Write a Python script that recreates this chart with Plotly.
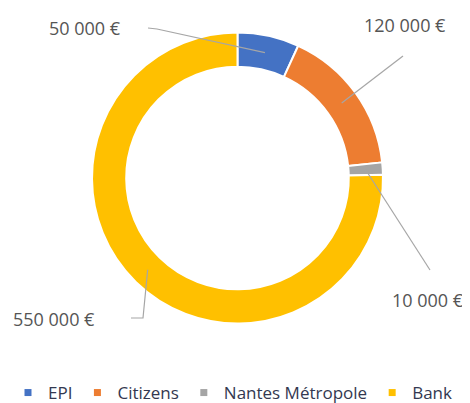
import math
import plotly.graph_objects as go

# ---- data ----
categories = ["EPI", "Citizens", "Nantes Métropole", "Bank"]
values = [50000, 120000, 10000, 550000]
value_labels = ["50 000 €", "120 000 €", "10 000 €", "550 000 €"]
colors = ["#4472C4", "#ED7D31", "#A5A5A5", "#FFC000"]

OFF = 8  # page body margin
W, H = 470 - OFF, 403 - OFF
CX, CY, R = 237.5 - OFF, 178 - OFF, 145.5
RDOM = R * 1.0  # pie fills its domain when margins do not auto-expand
HOLE = 0.765

def px(x, y):
    return x / W, 1 - y / H

fig = go.Figure()
fig.add_trace(go.Pie(
    labels=categories, values=values, hole=HOLE, sort=False,
    direction="clockwise", rotation=0,
    marker=dict(colors=colors, line=dict(color="white", width=2)),
    textinfo="none", hoverinfo="label+value", showlegend=False,
    domain=dict(x=[(CX - RDOM) / W, (CX + RDOM) / W], y=[1 - (CY + RDOM) / H, 1 - (CY - RDOM) / H]),
))

# legend entries (small squares)
for c, col in zip(categories, colors):
    fig.add_trace(go.Scatter(x=[None], y=[None], mode="markers", name=c,
                             marker=dict(symbol="square", size=7, color=col)))

# label anchor positions (viewport pixels) and leader-line elbows
label_pos = [(85, 28), (405, 25), (428, 300), (54, 319)]
line_ends = [[(157, 29), (148, 28)], [(403, 56)], [(430, 270)], [(143, 318), (131, 318)]]

total = sum(values)
rmid = R * (1 + HOLE) / 2
cum = 0
shapes = []
annotations = []
for i, v in enumerate(values):
    mid = (cum + v / 2) / total * 2 * math.pi
    cum += v
    tx = CX + rmid * math.sin(mid)
    ty = CY - rmid * math.cos(mid)
    pts = [(tx, ty)] + [(a - OFF, b - OFF) for a, b in line_ends[i]]
    path = "M " + " L ".join(f"{px(a, b)[0]},{px(a, b)[1]}" for a, b in pts)
    shapes.append(dict(type="path", path=path, xref="paper", yref="paper",
                       line=dict(color="#A6A6A6", width=1.2)))
    lx, ly = px(label_pos[i][0] - OFF, label_pos[i][1] - OFF)
    annotations.append(dict(x=lx, y=ly, xref="paper", yref="paper", text=value_labels[i],
                            showarrow=False, xanchor="center", yanchor="middle",
                            font=dict(family="Open Sans", size=18, color="#555555")))

fig.update_layout(
    width=W, height=H, margin=dict(l=0, r=0, t=0, b=0, autoexpand=False),
    paper_bgcolor="white", plot_bgcolor="white",
    shapes=shapes, annotations=annotations,
    xaxis=dict(visible=False), yaxis=dict(visible=False),
    legend=dict(orientation="h", x=0.0, xanchor="left", y=1 - 385 / H, yanchor="middle",
                font=dict(family="Open Sans", size=17, color="#333850"),
                itemwidth=30, tracegroupgap=0),
)
fig.write_html("out.html")
